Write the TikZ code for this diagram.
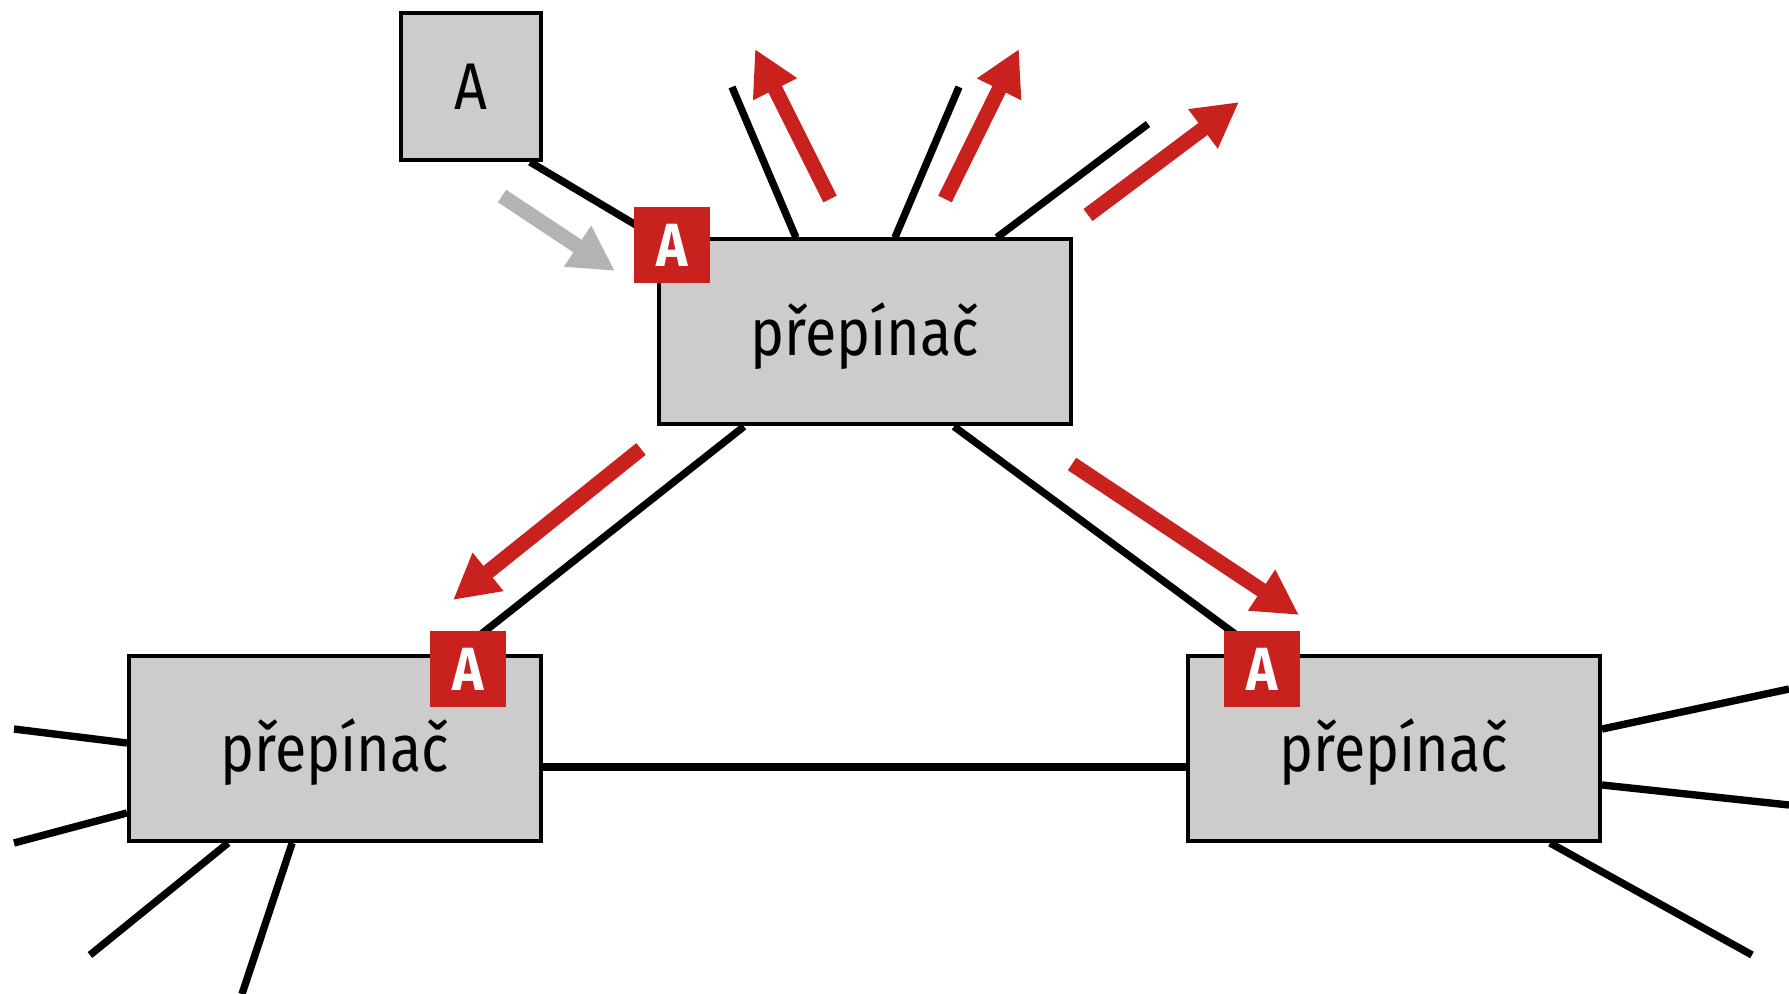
\documentclass[tikz,border=0pt]{standalone}
\usepackage{fontspec}
\setmainfont{Fira Sans}
\newfontfamily\labelfont{Fira Sans}[FakeStretch=0.87]
\usetikzlibrary{arrows.meta,backgrounds,calc}

\definecolor{boxgray}{HTML}{CCCCCC}
\definecolor{flowred}{HTML}{C9211E}
\definecolor{flowgray}{HTML}{B3B3B3}

% move a label down without changing its measured extent
\newcommand{\droplabel}[1]{\raisebox{-2pt}[\height][\depth]{#1}}

\tikzset{
  switchbox/.style={draw=black, line width=2pt, fill=boxgray, inner sep=0pt,
    minimum width=206pt, minimum height=92.5pt,
    font=\labelfont\fontsize{33pt}{36pt}\selectfont},
  hostbox/.style={draw=black, line width=2pt, fill=boxgray, inner sep=0pt,
    minimum width=70pt, minimum height=73.5pt,
    font=\labelfont\fontsize{33pt}{36pt}\selectfont},
  badge/.style={fill=flowred, text=white, inner sep=0pt, minimum size=38pt,
    font=\labelfont\bfseries\fontsize{30.5pt}{33pt}\selectfont},
  wire/.style={draw=black, line width=3.7pt},
  flow/.style={draw=flowred, line width=7.5pt,
    -{Triangle[length=22.5pt, width=23pt]}},
  ghostflow/.style={flow, draw=flowgray},
}

\begin{document}
\begin{tikzpicture}[x=0.5pt, y=-0.5pt]
\useasboundingbox (0,0) rectangle (1789,994);

% host and the three switches
\node[hostbox] (A) at (471,86.5) {A};
\node[switchbox] (T) at (865,332) {\droplabel{přepínač}};
\node[switchbox] (L) at (335,748.5) {\droplabel{přepínač}};
\node[switchbox] (R) at (1394,748.5) {\droplabel{přepínač}};

% learned-address badges
\node[badge] (bT) at (672,245.5) {A};
\node[badge] (bL) at (468,669) {A};
\node[badge] (bR) at (1262,669) {A};

% loose ends of the other ports
\coordinate (t1) at (732,87);
\coordinate (t2) at (959,87);
\coordinate (t3) at (1148,124);
\coordinate (l1) at (14,729);
\coordinate (l2) at (14,843);
\coordinate (l3) at (90,955);
\coordinate (l4) at (242,994);
\coordinate (r1) at (1789,689);
\coordinate (r2) at (1789,805);
\coordinate (r3) at (1752,955);

% cables
\begin{pgfonlayer}{background}
  \draw[wire] ($(A.south west)!0.91!(A.south east)$) -- (T.north west);
  \draw[wire] ($(T.north west)!0.334!(T.north east)$) -- (t1);
  \draw[wire] ($(T.north west)!0.572!(T.north east)$) -- (t2);
  \draw[wire] ($(T.north west)!0.817!(T.north east)$) -- (t3);
  \draw[wire] ($(T.south west)!0.209!(T.south east)$) -- ($(L.north west)!0.791!(L.north east)$);
  \draw[wire] ($(T.south west)!0.714!(T.south east)$) -- ($(R.north west)!0.183!(R.north east)$);
  \draw[wire] ($(L.north east)!0.598!(L.south east)$) -- ($(R.north west)!0.598!(R.south west)$);
  \draw[wire] ($(L.north west)!0.471!(L.south west)$) -- (l1);
  \draw[wire] ($(L.north west)!0.841!(L.south west)$) -- (l2);
  \draw[wire] ($(L.south west)!0.243!(L.south east)$) -- (l3);
  \draw[wire] ($(L.south west)!0.397!(L.south east)$) -- (l4);
  \draw[wire] ($(R.north east)!0.397!(R.south east)$) -- (r1);
  \draw[wire] ($(R.north east)!0.693!(R.south east)$) -- (r2);
  \draw[wire] ($(R.south west)!0.875!(R.south east)$) -- (r3);
\end{pgfonlayer}

% frame flow
\coordinate (g0) at (502,196);  \coordinate (g1) at (615,271);
\coordinate (f10) at (830,199); \coordinate (f11) at (755,49);
\coordinate (f20) at (945,199); \coordinate (f21) at (1019,49);
\coordinate (f30) at (1088,215); \coordinate (f31) at (1239,102);
\coordinate (f40) at (641,449); \coordinate (f41) at (453,600);
\coordinate (f50) at (1072,464); \coordinate (f51) at (1299,615);

\draw[ghostflow] (g0) -- (g1);
\draw[flow] (f10) -- (f11);
\draw[flow] (f20) -- (f21);
\draw[flow] (f30) -- (f31);
\draw[flow] (f40) -- (f41);
\draw[flow] (f50) -- (f51);
\end{tikzpicture}
\end{document}
